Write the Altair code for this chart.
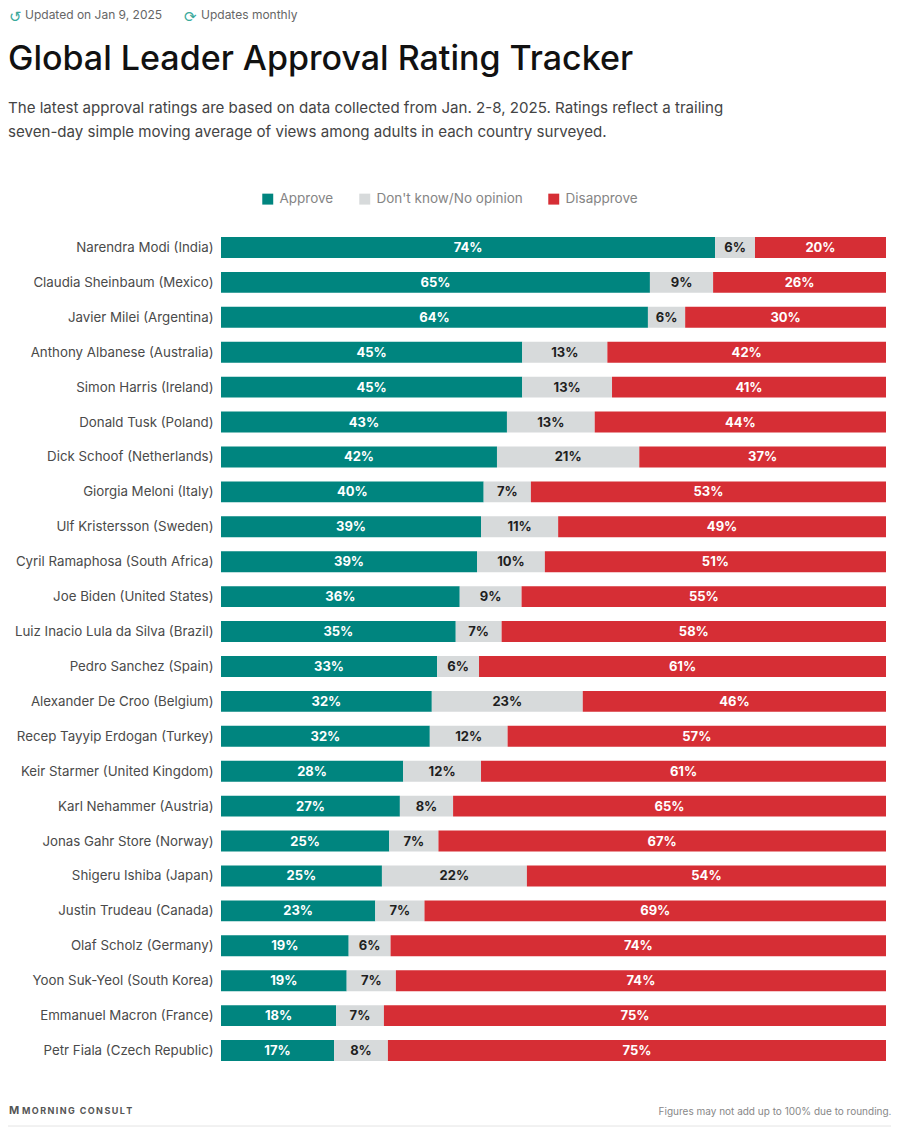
import altair as alt
import pandas as pd

FONT = "Inter"

leaders = ["Narendra Modi (India)", "Claudia Sheinbaum (Mexico)", "Javier Milei (Argentina)",
           "Anthony Albanese (Australia)", "Simon Harris (Ireland)", "Donald Tusk (Poland)",
           "Dick Schoof (Netherlands)", "Giorgia Meloni (Italy)", "Ulf Kristersson (Sweden)",
           "Cyril Ramaphosa (South Africa)", "Joe Biden (United States)",
           "Luiz Inacio Lula da Silva (Brazil)", "Pedro Sanchez (Spain)",
           "Alexander De Croo (Belgium)", "Recep Tayyip Erdogan (Turkey)",
           "Keir Starmer (United Kingdom)", "Karl Nehammer (Austria)", "Jonas Gahr Store (Norway)",
           "Shigeru Ishiba (Japan)", "Justin Trudeau (Canada)", "Olaf Scholz (Germany)",
           "Yoon Suk-Yeol (South Korea)", "Emmanuel Macron (France)", "Petr Fiala (Czech Republic)"]

approve = [74.3, 64.5, 64.2, 45.3, 45.3, 43.0, 41.5, 39.5, 39.1, 38.5, 35.9, 35.3,
           32.5, 31.7, 31.4, 27.4, 26.9, 25.3, 24.2, 23.2, 19.2, 18.9, 17.3, 17.0]
dont_know = [6.0, 9.5, 5.6, 12.8, 13.5, 13.2, 21.4, 7.1, 11.6, 10.2, 9.3, 6.9,
             6.3, 22.7, 11.7, 11.7, 8.0, 7.4, 21.8, 7.4, 6.3, 7.4, 7.2, 8.1]
disapprove = [19.7, 26.0, 30.2, 41.9, 41.2, 43.8, 37.1, 53.4, 49.3, 51.3, 54.8, 57.8,
              61.2, 45.6, 56.9, 60.9, 65.1, 67.3, 54.0, 69.4, 74.5, 73.7, 75.5, 74.9]

approve_labels = [74, 65, 64, 45, 45, 43, 42, 40, 39, 39, 36, 35, 33, 32, 32, 28, 27, 25, 25, 23, 19, 19, 18, 17]
dont_know_labels = [6, 9, 6, 13, 13, 13, 21, 7, 11, 10, 9, 7, 6, 23, 12, 12, 8, 7, 22, 7, 6, 7, 7, 8]
disapprove_labels = [20, 26, 30, 42, 41, 44, 37, 53, 49, 51, 55, 58, 61, 46, 57, 61, 65, 67, 54, 69, 74, 74, 75, 75]

responses = ["Approve", "Don't know/No opinion", "Disapprove"]
colors = ["#00857f", "#d7dadb", "#d62e35"]

rows = []
for i, name in enumerate(leaders):
    start = 0.0
    for resp, vals, labs in zip(responses, [approve, dont_know, disapprove],
                                [approve_labels, dont_know_labels, disapprove_labels]):
        v = vals[i]
        rows.append({"leader": name, "response": resp, "start": start, "end": start + v,
                     "mid": start + v / 2, "label": f"{labs[i]}%"})
        start += v
df = pd.DataFrame(rows)

y_enc = alt.Y("leader:N", sort=leaders, title=None,
              scale=alt.Scale(paddingInner=0.4, paddingOuter=0.2),
              axis=alt.Axis(domain=False, ticks=False, labelPadding=8, labelFontSize=13.3,
                            labelColor="#4a4a4a", labelFont=FONT, labelLimit=300, labelOffset=0.5))
x_scale = alt.Scale(domain=[0, 100], nice=False)

bars = alt.Chart(df).mark_bar(cornerRadius=0).encode(
    x=alt.X("start:Q", scale=x_scale, axis=None),
    x2="end:Q",
    y=y_enc,
    color=alt.Color("response:N", scale=alt.Scale(domain=responses, range=colors),
                    legend=alt.Legend(orient="none", legendX=40, legendY=-38, direction="horizontal",
                                      title=None, symbolType="square", symbolSize=120,
                                      symbolStrokeWidth=0, symbolOpacity=1,
                                      labelFontSize=13.5, labelColor="#858585", labelFont=FONT,
                                      columnPadding=24, labelOffset=5, labelLimit=300)),
)

labels = alt.Chart(df).mark_text(font=FONT, fontSize=13, fontWeight="bold", dy=0.5).encode(
    x=alt.X("mid:Q", scale=x_scale, axis=None),
    y=alt.Y("leader:N", sort=leaders),
    text="label:N",
    color=alt.condition(alt.datum.response == "Don't know/No opinion", alt.value("#1f1f1f"), alt.value("#ffffff")),
)

def note(text, x, y, size, color, weight="normal", align="left", font=FONT):
    return alt.Chart(pd.DataFrame({"t": [text]})).mark_text(
        font=font, fontSize=size, color=color, fontWeight=weight, align=align, baseline="middle"
    ).encode(text="t:N", x=alt.value(x - 221), y=alt.value(y - 230))

notes = [
    note("\u21ba", 9, 17, 15, "#3aa99b", font="DejaVu Sans"),
    note("Updated on Jan 9, 2025", 25, 14.5, 12, "#666666"),
    note("\u27f3", 184, 17, 15, "#3aa99b", font="DejaVu Sans"),
    note("Updates monthly", 201, 14.5, 12, "#666666"),
    note("Global Leader Approval Rating Tracker", 8, 60, 34, "#111111", weight=500),
    note("The latest approval ratings are based on data collected from Jan. 2-8, 2025. Ratings reflect a trailing",
         8, 108, 15.1, "#444444"),
    note("seven-day simple moving average of views among adults in each country surveyed.",
         8, 132, 15.1, "#444444"),
    note("M", 9, 1111, 11, "#555555", weight="bold"),
    note("M\u2009O\u2009R\u2009N\u2009I\u2009N\u2009G\u2009 \u2009C\u2009O\u2009N\u2009S\u2009U\u2009L\u2009T",
         22, 1111, 9, "#555555", weight="bold"),
    note("Figures may not add up to 100% due to rounding.", 891.5, 1112, 10, "#888888", align="right"),
]

footer_rule = alt.Chart(pd.DataFrame({"a": [0]})).mark_rule(color="#e4e4e4", strokeWidth=1).encode(
    x=alt.value(8 - 221), x2=alt.value(891 - 221), y=alt.value(1126 - 230))

chart = alt.layer(bars, labels, *notes, footer_rule).properties(
    width=665, height=838,
    padding={"left": 213, "top": 222, "right": 6, "bottom": 59},
    autosize=alt.AutoSizeParams(type="none"),
    background="#ffffff",
).configure_view(stroke=None).configure_axis(grid=False)

chart.save("out.html", embed_options={"renderer": "svg", "actions": False})
